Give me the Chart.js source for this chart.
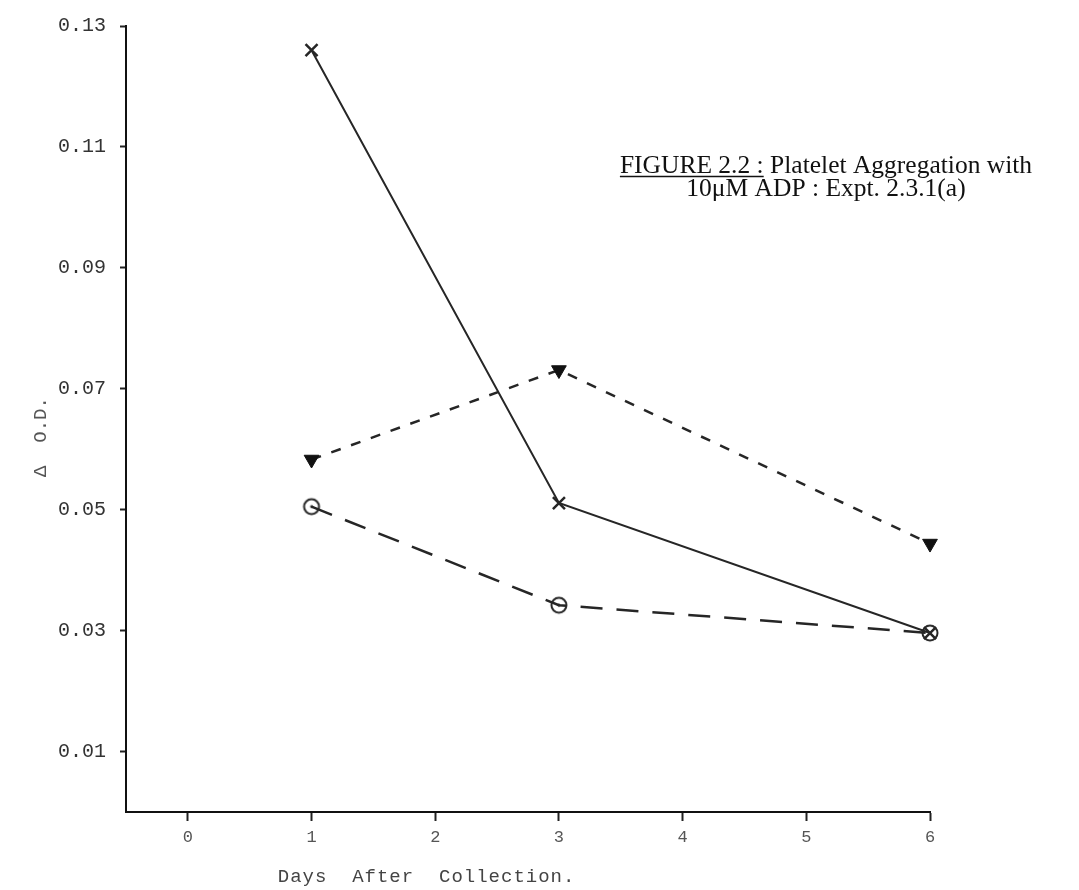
<!DOCTYPE html>
<html>
<head>
<meta charset="utf-8">
<script src="https://cdn.jsdelivr.net/npm/chart.js@4"></script>
<style>
  html, body { margin: 0; padding: 0; background: #fff; }
</style>
</head>
<body>
<canvas id="odChart" width="1079" height="890"></canvas>
<script>
// values (days after collection vs delta O.D.)
const days = [1, 3, 6];
const crossValues = [0.126, 0.0511, 0.0296];
const triangleValues = [0.0583, 0.0731, 0.0444];
const circleValues = [0.0505, 0.0342, 0.0296];
const xTicks = [0, 1, 2, 3, 4, 5, 6];
const yTicks = [0.01, 0.03, 0.05, 0.07, 0.09, 0.11, 0.13];

const ink = "#262626";

function toPoints(values) {
  return days.map((d, i) => ({ x: d, y: values[i] }));
}

// open circle with a dot in the middle
function makeDotCircle() {
  const c = document.createElement("canvas");
  c.width = 20;
  c.height = 20;
  const g = c.getContext("2d");
  g.strokeStyle = ink;
  g.lineWidth = 2;
  g.beginPath();
  g.arc(10, 10, 7.5, 0, Math.PI * 2);
  g.stroke();
  g.fillStyle = ink;
  g.beginPath();
  g.arc(10, 10, 1.4, 0, Math.PI * 2);
  g.fill();
  return c;
}

// texts that sit outside the normal chart.js places
const annotations = {
  id: "annotations",
  afterDraw(chart) {
    const ctx = chart.ctx;
    const xScale = chart.scales.x;
    ctx.save();

    // x axis title
    ctx.fillStyle = "#444";
    ctx.font = "19px 'Liberation Mono', 'DejaVu Sans Mono', monospace";
    ctx.letterSpacing = "1px";
    ctx.textAlign = "center";
    ctx.textBaseline = "middle";
    ctx.fillText("Days  After  Collection.", xScale.getPixelForValue(1.93), 877);
    ctx.letterSpacing = "0px";

    // y axis title
    ctx.save();
    ctx.translate(41, 437);
    ctx.rotate(-Math.PI / 2);
    ctx.font = "19px 'Liberation Mono', 'DejaVu Sans Mono', monospace";
    ctx.fillStyle = "#555";
    ctx.fillText("\u0394  O.D.", 0, 0);
    ctx.restore();

    // figure caption
    ctx.fillStyle = "#111";
    ctx.font = "25.5px 'Liberation Serif', 'DejaVu Serif', serif";
    ctx.textBaseline = "alphabetic";
    ctx.textAlign = "left";
    const head = "FIGURE 2.2 :";
    const rest = " Platelet Aggregation with";
    const headW = ctx.measureText(head).width;
    const fullW = headW + ctx.measureText(rest).width;
    const left = 826 - fullW / 2;
    ctx.fillText(head, left, 173);
    ctx.fillText(rest, left + headW, 173);
    ctx.strokeStyle = "#111";
    ctx.lineWidth = 1.5;
    ctx.beginPath();
    ctx.moveTo(left, 176.5);
    ctx.lineTo(left + headW, 176.5);
    ctx.stroke();
    ctx.textAlign = "center";
    ctx.fillText("10\u03BCM ADP : Expt. 2.3.1(a)", 826, 196);

    ctx.restore();
  },
};

const ctx = document.getElementById("odChart").getContext("2d");

let odChart = new Chart(ctx, {
  type: "line",
  data: {
    datasets: [
      {
        label: "cross",
        data: toPoints(crossValues),
        borderColor: ink,
        borderWidth: 2,
        pointStyle: "crossRot",
        pointRadius: 8.5,
        pointBorderWidth: 2.5,
        pointBorderColor: ink,
        clip: false,
        order: 0,
      },
      {
        label: "triangle",
        data: toPoints(triangleValues),
        borderColor: ink,
        borderWidth: 2.5,
        borderDash: [10, 11],
        pointStyle: "triangle",
        rotation: 180,
        pointRadius: 8.5,
        pointBackgroundColor: "#111",
        pointBorderColor: "#111",
        pointBorderWidth: 1,
        clip: false,
        order: 1,
      },
      {
        label: "circle",
        data: toPoints(circleValues),
        borderColor: ink,
        borderWidth: 2.5,
        borderDash: [22, 14],
        pointStyle: makeDotCircle(),
        pointRadius: 8,
        clip: false,
        order: 2,
      },
    ],
  },
  options: {
    responsive: false,
    animation: false,
    layout: {
      padding: { left: 0, right: 149, top: 22, bottom: 0 },
    },
    scales: {
      x: {
        type: "linear",
        min: -0.5,
        max: 6,
        afterBuildTicks: (scale) => {
          scale.ticks = xTicks.map((v) => ({ value: v }));
        },
        afterFit: (scale) => {
          scale.height = 78;
        },
        border: { color: "#111", width: 2 },
        grid: {
          drawOnChartArea: false,
          drawTicks: true,
          tickLength: 9,
          tickColor: "#222",
          tickWidth: 2,
        },
        ticks: {
          color: "#555",
          padding: 6,
          maxRotation: 0,
          font: { family: "'Liberation Mono', 'DejaVu Sans Mono', monospace", size: 17 },
          callback: (v) => String(v),
        },
      },
      y: {
        min: 0,
        max: 0.13,
        afterBuildTicks: (scale) => {
          scale.ticks = yTicks.map((v) => ({ value: v }));
        },
        afterFit: (scale) => {
          scale.width = 126;
        },
        border: { color: "#111", width: 2 },
        grid: {
          drawOnChartArea: false,
          drawTicks: true,
          tickLength: 6,
          tickColor: "#222",
          tickWidth: 2,
        },
        ticks: {
          color: "#333",
          padding: 14,
          font: { family: "'Liberation Mono', 'DejaVu Sans Mono', monospace", size: 20 },
          callback: (v) => v.toFixed(2),
        },
      },
    },
    plugins: {
      legend: { display: false },
      tooltip: { enabled: false },
      title: { display: false },
    },
  },
  plugins: [annotations],
});
</script>
</body>
</html>
